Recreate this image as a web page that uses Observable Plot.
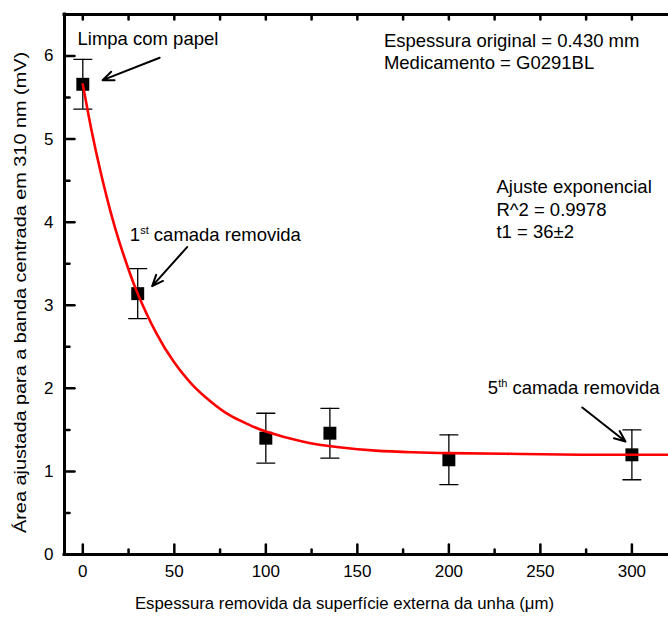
<!DOCTYPE html>
<html>
<head>
<meta charset="utf-8">
<script src="https://cdn.jsdelivr.net/npm/d3@7"></script>
<script src="https://cdn.jsdelivr.net/npm/@observablehq/plot@0.6"></script>
<style>
  html, body { margin: 0; padding: 0; background: #fff; }
</style>
</head>
<body>
<div id="chart"></div>
<script>
// Measured band area versus thickness removed from the nail surface
const thickness = [0, 30, 100, 135, 200, 300];          // µm
const area = [5.66, 3.14, 1.40, 1.46, 1.14, 1.20];      // mV
const areaError = [0.30, 0.30, 0.30, 0.30, 0.30, 0.30]; // mV

// Exponential fit curve, sampled along the thickness axis
const fitThickness = [0, 5, 10, 15, 20, 25, 30, 40, 50, 60, 70, 80, 90, 100, 120, 140, 160, 180, 200, 240, 280, 320];
const fitArea = [5.66, 5.08, 4.58, 4.14, 3.76, 3.43, 3.14, 2.67, 2.31, 2.04, 1.84, 1.68, 1.57, 1.48, 1.36, 1.29, 1.25, 1.23, 1.22, 1.21, 1.20, 1.20];

// Axis ticks
const xMajorTicks = [0, 50, 100, 150, 200, 250, 300];
const xMinorTicks = [25, 75, 125, 175, 225, 275];
const yMajorTicks = [0, 1, 2, 3, 4, 5, 6];
const yMinorTicks = [0.5, 1.5, 2.5, 3.5, 4.5, 5.5];

// Titles and notes ("n^xx rest" marks a superscript ordinal)
const xTitle = "Espessura removida da superfície externa da unha (μm)";
const yTitle = "Área ajustada para a banda centrada em 310 nm (mV)";
const noteText = [
  "Limpa com papel",
  "Espessura original = 0.430 mm",
  "Medicamento = G0291BL",
  "Ajuste exponencial",
  "R^2 = 0.9978",
  "t1 = 36±2",
  "1^st camada removida",
  "5^th camada removida"
];
const noteX = [-2.9, 164.5, 164.5, 226.0, 226.0, 226.0, 25.7, 221.3];
const noteY = [6.21, 6.18, 5.91, 4.42, 4.14, 3.88, 3.84, 2.00];

// Arrows pointing from notes to points
const arrowX1 = [42.0, 57.0, 272.9];
const arrowY1 = [5.98, 3.70, 1.77];
const arrowX2 = [10.8, 37.9, 296.5];
const arrowY2 = [5.71, 3.23, 1.36];

const points = thickness.map((x, i) => ({x, y: area[i], e: areaError[i]}));
const fit = fitThickness.map((x, i) => ({x, y: fitArea[i]}));
const notes = noteText.map((text, i) => ({text, x: noteX[i], y: noteY[i]}));
const arrows = arrowX1.map((x1, i) => ({x1, y1: arrowY1[i], x2: arrowX2[i], y2: arrowY2[i]}));

// Horizontal segment used for error bar caps
const capShape = {
  draw(context, l) {
    context.moveTo(-l / 2, 0);
    context.lineTo(l / 2, 0);
  }
};
// Straight segment from the anchor point, used for inward axis ticks
const tickShape = {
  draw(context, l) {
    context.moveTo(0, 0);
    context.lineTo(0, -l);
  }
};

const tick = (data, channel, at, rotate, length) =>
  Plot.vector(data, {
    [channel]: d => d,
    [channel === "x" ? "y" : "x"]: () => at,
    rotate, length, anchor: "start", shape: tickShape,
    stroke: "#000", strokeWidth: 2.5
  });

const chart = Plot.plot({
  width: 668,
  height: 617,
  marginLeft: 64,
  marginRight: 0,
  marginTop: 14,
  marginBottom: 63,
  style: {fontFamily: "'Liberation Sans', Arial, sans-serif", background: "#fff", color: "#000"},
  x: {domain: [-10, 320]},
  y: {domain: [0, 6.5]},
  marks: [
    // tick labels
    Plot.axisX({anchor: "bottom", ticks: xMajorTicks, tickSize: 0, tickPadding: 10, fontSize: 17, tickFormat: d => `${d}`, label: null}),
    Plot.axisY({anchor: "left", ticks: yMajorTicks, tickSize: 0, tickPadding: 11, fontSize: 17, tickFormat: d => `${d}`, label: null}),
    // inward ticks
    tick(xMajorTicks, "x", 0, 0, 10),
    tick(xMinorTicks, "x", 0, 0, 5),
    tick([...xMajorTicks, ...xMinorTicks], "x", 6.5, 180, 5),
    tick(yMajorTicks, "y", -10, 90, 10),
    tick(yMinorTicks, "y", -10, 90, 5),
    // frame lines
    Plot.ruleX([-10], {strokeWidth: 3, strokeLinecap: "square"}),
    Plot.ruleY([0, 6.5], {strokeWidth: 3, strokeLinecap: "square"}),
    // error bars
    Plot.ruleX(points, {x: "x", y1: d => d.y - d.e, y2: d => d.y + d.e, stroke: "#000", strokeWidth: 1.3}),
    Plot.vector(points, {x: "x", y: d => d.y + d.e, length: 18, anchor: "start", shape: capShape, stroke: "#000", strokeWidth: 1.3}),
    Plot.vector(points, {x: "x", y: d => d.y - d.e, length: 18, anchor: "start", shape: capShape, stroke: "#000", strokeWidth: 1.3}),
    // data points
    Plot.dot(points, {x: "x", y: "y", symbol: "square", r: 7.3, fill: "#000", stroke: "none"}),
    // fit curve
    Plot.line(fit, {x: "x", y: "y", stroke: "#ff0000", strokeWidth: 2.6, curve: "natural"}),
    // notes and arrows
    Plot.text(notes, {x: "x", y: "y", text: "text", textAnchor: "start", fontSize: 18.5, fill: "#000"}),
    Plot.arrow(arrows, {x1: "x1", y1: "y1", x2: "x2", y2: "y2", stroke: "#000", strokeWidth: 2, headLength: 9, headAngle: 45}),
    // axis titles
    Plot.text([xTitle], {text: d => d, frameAnchor: "bottom", textAnchor: "middle", lineAnchor: "middle", dx: -22, dy: 49, fontSize: 16.8, fill: "#000"}),
    Plot.text([yTitle], {text: d => d, frameAnchor: "left", textAnchor: "middle", lineAnchor: "middle", rotate: -90, dx: -44, dy: 8, fontSize: 17, fill: "#000"})
  ]
});

// Render ordinal superscripts such as "1^st"; stretch the y title along its length
d3.select(chart).selectAll("text").each(function () {
  const content = this.textContent;
  if (content === yTitle) {
    d3.select(this).attr("textLength", 481).attr("lengthAdjust", "spacingAndGlyphs");
    return;
  }
  const m = content.match(/^(\d)\^([a-z]+)( .*)$/);
  if (!m) return;
  const t = d3.select(this);
  t.text(null);
  t.append("tspan").text(m[1]);
  t.append("tspan").attr("font-size", 11).attr("dy", -7).text(m[2]);
  t.append("tspan").attr("dy", 7).text(m[3]);
});

document.getElementById("chart").append(chart);
</script>
</body>
</html>
